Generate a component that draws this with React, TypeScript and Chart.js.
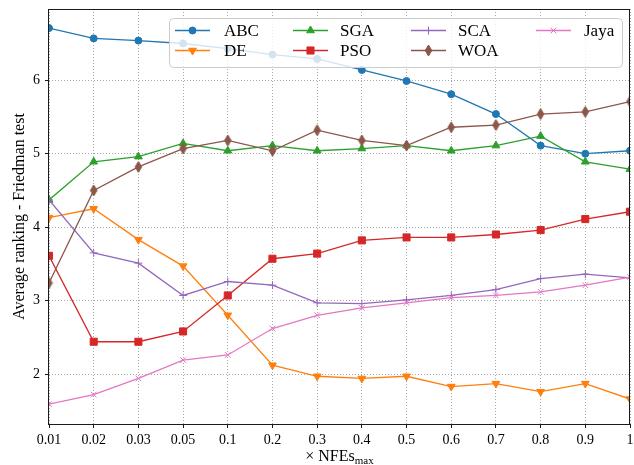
import React, { useEffect, useRef } from 'react';
import { Chart, registerables } from 'chart.js';
import { drawPoint } from 'chart.js/helpers';

Chart.register(...registerables);

const categories = ['0.01', '0.02', '0.03', '0.05', '0.1', '0.2', '0.3', '0.4', '0.5', '0.6', '0.7', '0.8', '0.9', '1'];
const abc = [6.71, 6.57, 6.54, 6.50, 6.43, 6.35, 6.29, 6.14, 5.99, 5.81, 5.54, 5.11, 5.00, 5.04];
const de = [4.13, 4.25, 3.83, 3.47, 2.80, 2.12, 1.97, 1.94, 1.97, 1.83, 1.87, 1.76, 1.87, 1.66];
const sga = [4.37, 4.89, 4.96, 5.14, 5.04, 5.11, 5.04, 5.07, 5.11, 5.04, 5.11, 5.24, 4.89, 4.79];
const pso = [3.61, 2.44, 2.44, 2.58, 3.07, 3.57, 3.64, 3.82, 3.86, 3.86, 3.90, 3.96, 4.11, 4.21];
const sca = [4.37, 3.65, 3.51, 3.07, 3.26, 3.21, 2.97, 2.96, 3.01, 3.07, 3.15, 3.30, 3.36, 3.31];
const woa = [3.24, 4.50, 4.82, 5.07, 5.18, 5.04, 5.32, 5.18, 5.11, 5.36, 5.39, 5.54, 5.57, 5.71];
const jaya = [1.59, 1.72, 1.94, 2.19, 2.26, 2.62, 2.80, 2.90, 2.97, 3.04, 3.07, 3.12, 3.21, 3.32];
const yTicks = [2, 3, 4, 5, 6];

const FONT = "'Liberation Serif', 'DejaVu Serif', serif";

export default function App() {
  const ref = useRef<HTMLCanvasElement>(null);

  useEffect(() => {
    const canvas = ref.current!;
    const diamond = document.createElement('canvas');
    diamond.width = 9;
    diamond.height = 13;
    const d = diamond.getContext('2d')!;
    d.fillStyle = '#8c564b';
    d.strokeStyle = '#8c564b';
    d.lineWidth = 1;
    d.beginPath();
    d.moveTo(4.5, 1);
    d.lineTo(7.8, 6.5);
    d.lineTo(4.5, 12);
    d.lineTo(1.2, 6.5);
    d.closePath();
    d.fill();
    d.stroke();

    const series: any[] = [
      { label: 'ABC', data: abc, color: '#1f77b4', style: 'circle', radius: 3.5, rot: 0 },
      { label: 'DE', data: de, color: '#ff7f0e', style: 'triangle', radius: 4.5, rot: 180 },
      { label: 'SGA', data: sga, color: '#2ca02c', style: 'triangle', radius: 4.5, rot: 0 },
      { label: 'PSO', data: pso, color: '#d62728', style: 'rect', radius: 5, rot: 0 },
      { label: 'SCA', data: sca, color: '#9467bd', style: 'cross', radius: 4, rot: 0 },
      { label: 'WOA', data: woa, color: '#8c564b', style: diamond, radius: 5, rot: 0 },
      { label: 'Jaya', data: jaya, color: '#e377c2', style: 'crossRot', radius: 4, rot: 0 },
    ];

    const legendCols = [
      [0, 1],
      [2, 3],
      [4, 5],
      [6],
    ];

    const overlay = {
      id: 'overlay',
      afterDatasetsDraw(chart: any) {
        const { ctx, chartArea: a } = chart;
        ctx.save();
        // frame
        ctx.strokeStyle = '#1a1a1a';
        ctx.lineWidth = 1;
        ctx.strokeRect(Math.round(a.left) - 0.5, Math.round(a.top) + 0.5, Math.round(a.right - a.left), Math.round(a.bottom - a.top));
        // legend box
        const bx = 169.5, by = 18.5, bw = 453, bh = 49, r = 4;
        ctx.beginPath();
        ctx.moveTo(bx + r, by);
        ctx.lineTo(bx + bw - r, by);
        ctx.arcTo(bx + bw, by, bx + bw, by + r, r);
        ctx.lineTo(bx + bw, by + bh - r);
        ctx.arcTo(bx + bw, by + bh, bx + bw - r, by + bh, r);
        ctx.lineTo(bx + r, by + bh);
        ctx.arcTo(bx, by + bh, bx, by + bh - r, r);
        ctx.lineTo(bx, by + r);
        ctx.arcTo(bx, by, bx + r, by, r);
        ctx.closePath();
        ctx.fillStyle = 'rgba(255,255,255,0.8)';
        ctx.fill();
        ctx.strokeStyle = '#cccccc';
        ctx.stroke();

        const lineX = [175, 293, 411, 536];
        const textX = [224, 340, 458, 584];
        const rowY = [30.5, 50.5];
        ctx.font = `17px ${FONT}`;
        ctx.textBaseline = 'middle';
        ctx.textAlign = 'left';
        legendCols.forEach((col, ci) => {
          col.forEach((si, ri) => {
            const s = series[si];
            const y = rowY[ri];
            ctx.strokeStyle = s.color;
            ctx.fillStyle = s.color;
            ctx.lineWidth = 1.4;
            ctx.beginPath();
            ctx.moveTo(lineX[ci], y);
            ctx.lineTo(lineX[ci] + 35, y);
            ctx.stroke();
            ctx.lineWidth = 1;
            drawPoint(ctx, { pointStyle: s.style, rotation: s.rot, radius: s.radius, borderWidth: 1 } as any, lineX[ci] + 17.5, y);
            ctx.fillStyle = '#000';
            ctx.fillText(s.label, textX[ci], y + 1);
          });
        });
        ctx.restore();
      },
      afterDraw(chart: any) {
        const { ctx, chartArea: a } = chart;
        ctx.save();
        ctx.fillStyle = '#000';
        ctx.textBaseline = 'alphabetic';
        ctx.textAlign = 'left';
        const main = '× NFEs';
        const sub = 'max';
        ctx.font = `16px ${FONT}`;
        const w1 = ctx.measureText(main).width;
        ctx.font = `11px ${FONT}`;
        const w2 = ctx.measureText(sub).width;
        const cx = (a.left + a.right) / 2;
        const x0 = cx - (w1 + w2) / 2;
        const base = 461;
        ctx.font = `16px ${FONT}`;
        ctx.fillText(main, x0, base);
        ctx.font = `11px ${FONT}`;
        ctx.fillText(sub, x0 + w1, base + 3);
        ctx.restore();
      },
    };

    const gridOpts = {
      color: 'rgba(140,140,140,0.75)',
      lineWidth: 1,
      borderDash: [1, 2],
      tickColor: '#1a1a1a',
      tickLength: 4,
      tickBorderDash: [],
      drawTicks: true,
    };

    const chart = new Chart(canvas, {
      type: 'line',
      data: {
        labels: categories,
        datasets: series.map((s, i) => ({
          label: s.label,
          data: s.data,
          borderColor: s.color,
          backgroundColor: s.color,
          borderWidth: 1.3,
          pointStyle: s.style,
          pointRadius: s.radius,
          pointRotation: s.rot,
          pointBorderWidth: 1,
          pointBorderColor: s.color,
          pointBackgroundColor: s.color,
          tension: 0,
          fill: false,
          clip: 0,
          order: series.length - i,
        })),
      },
      options: {
        animation: false,
        responsive: false,
        devicePixelRatio: 1,
        layout: { padding: { top: 9, right: 3, left: 0, bottom: 0 } },
        plugins: { legend: { display: false }, tooltip: { enabled: false } },
        scales: {
          x: {
            type: 'category',
            offset: false,
            afterFit: (s: any) => {
              s.height = 41;
              s.paddingLeft = 0;
              s.paddingRight = 0;
              s.paddingTop = 0;
              s.paddingBottom = 0;
            },
            grid: gridOpts,
            border: { display: false, dash: [1, 2] },
            ticks: {
              color: '#000',
              font: { family: FONT, size: 14 },
              padding: 4,
              autoSkip: false,
              maxRotation: 0,
            },
            title: { display: false },
          },
          y: {
            min: 1.32,
            max: 6.97,
            afterFit: (s: any) => {
              s.width = 49;
              s.paddingLeft = 0;
              s.paddingRight = 0;
              s.paddingTop = 0;
              s.paddingBottom = 0;
            },
            afterBuildTicks: (s: any) => { s.ticks = yTicks.map((v) => ({ value: v })); },
            grid: gridOpts,
            border: { display: false, dash: [1, 2] },
            ticks: {
              color: '#000',
              font: { family: FONT, size: 14 },
              padding: 5,
            },
            title: {
              display: true,
              text: 'Average ranking - Friedman test',
              color: '#000',
              font: { family: FONT, size: 16 },
              padding: { top: 10, bottom: 0 },
            },
          },
        },
      },
      plugins: [overlay],
    } as any);

    return () => chart.destroy();
  }, []);

  return (
    <div style={{ position: 'absolute', left: 0, top: 0, width: 634, height: 465, overflow: 'hidden' }}>
      <canvas ref={ref} width={636} height={465} style={{ display: 'block' }} />
    </div>
  );
}
